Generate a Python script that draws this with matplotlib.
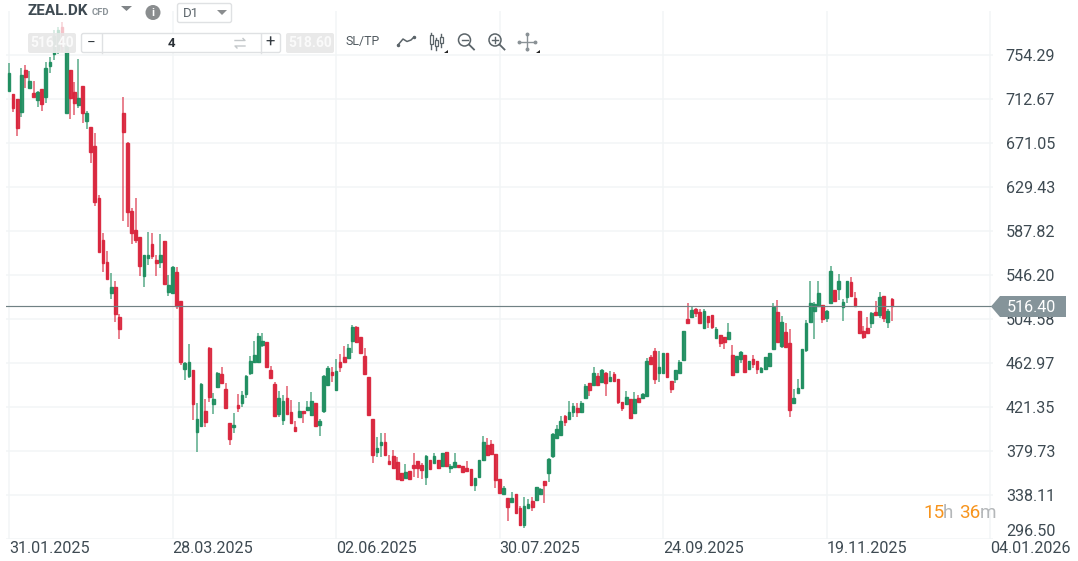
import matplotlib
matplotlib.use("Agg")
import matplotlib.pyplot as plt
from matplotlib.patches import Rectangle, Polygon, FancyBboxPatch, Circle

plt.rcParams['font.family'] = ['Roboto', 'DejaVu Sans']

opens = [
 720.3,717.4,712.6,700.3,740.1,723.0,718.4,711.7,722.1,714.5,
 743.9,755.2,759.0,780.8,699.4,740.1,719.3,706.9,724.9,691.9,
 686.1,668.2,619.0,579.3,558.4,529.2,534.8,506.4,699.4,671.1,
 606.7,588.7,582.1,545.2,562.2,575.5,560.3,558.4,578.3,530.1,
 529.2,549.0,521.6,457.3,450.6,456.3,397.6,403.3,417.6,477.1,
 424.1,440.3,452.5,438.3,406.2,402.4,423.2,425.1,433.6,453.4,
 463.9,463.9,480.0,482.8,456.3,443.0,414.7,409.0,429.8,416.6,
 402.4,411.9,417.5,418.5,413.8,425.1,404.3,417.5,442.1,454.4,
 437.4,463.9,468.6,467.6,483.7,497.0,487.5,469.5,449.7,409.9,
 378.7,385.4,388.2,370.2,375.0,369.3,358.9,354.1,360.8,366.4,
 370.2,366.4,355.0,371.2,368.3,371.2,365.5,378.7,363.6,364.5,
 366.4,365.5,363.6,362.6,347.5,355.0,371.2,385.4,386.3,376.9,
 353.2,338.9,335.2,331.4,339.0,325.8,309.7,325.8,332.4,333.3,
 339.0,351.3,358.9,374.9,392.0,394.8,412.8,410.0,416.6,420.4,
 416.6,429.8,444.0,442.1,450.6,444.9,453.4,445.9,452.5,447.8,
 426.0,424.1,428.9,415.6,429.8,429.8,431.7,468.6,474.3,453.4,
 453.4,472.4,445.9,447.8,453.4,465.8,504.5,506.4,514.0,511.2,
 496.0,507.4,508.3,486.6,489.4,487.5,485.6,470.5,454.4,466.7,
 470.5,457.3,466.7,464.8,454.4,457.3,460.1,476.2,511.2,479.0,
 492.2,481.9,425.1,434.6,439.3,475.2,501.7,512.1,516.8,517.8,
 505.5,519.7,532.0,532.9,515.9,525.4,539.5,524.4,512.1,493.2,
 496.0,500.7,511.2,508.3,526.3,501.7,523.4]
highs = [
 746.8,717.4,712.6,742.0,744.9,739.2,729.7,720.3,722.1,747.7,
 752.0,777.9,780.8,785.5,762.8,740.1,728.7,750.5,724.9,701.3,
 686.1,680.5,621.8,585.9,568.9,548.1,540.4,509.2,714.5,672.0,
 609.5,619.0,582.1,565.1,586.8,585.9,565.1,584.9,578.3,546.2,
 554.6,553.7,521.6,463.9,480.9,456.3,425.1,444.0,428.9,478.1,
 434.6,454.4,459.1,444.0,406.2,415.6,433.6,436.5,451.6,469.5,
 483.7,491.3,491.3,482.8,460.1,444.9,436.4,432.7,441.2,427.9,
 408.0,426.0,417.5,427.0,435.5,425.1,409.9,451.6,460.1,459.1,
 466.7,471.4,479.0,480.9,498.9,497.9,487.5,477.1,449.7,409.9,
 392.9,396.7,396.7,375.9,380.6,374.0,358.9,367.4,360.8,377.8,
 370.2,368.3,375.9,371.2,377.8,371.2,377.8,378.7,367.4,377.8,
 366.4,365.5,370.2,362.6,354.1,371.2,393.9,392.0,390.1,376.9,
 353.2,346.6,335.2,340.9,339.0,327.7,336.2,334.3,336.2,345.6,
 344.7,351.3,373.1,396.7,404.3,412.8,413.8,427.0,425.1,425.1,
 427.0,443.0,444.0,459.1,453.4,457.3,454.4,455.4,454.4,447.8,
 426.0,436.5,428.9,435.5,432.7,434.6,467.6,470.5,477.1,474.3,
 472.4,472.4,445.9,456.3,465.8,493.2,519.7,516.8,514.9,514.0,
 514.0,507.4,508.3,497.0,489.4,487.5,500.7,480.0,469.5,474.3,
 470.5,464.8,470.5,464.8,459.1,468.6,472.4,519.7,522.5,507.4,
 500.7,495.1,438.3,447.8,476.2,503.6,540.4,520.6,540.4,517.8,
 513.0,554.6,532.0,547.1,523.4,540.4,544.3,530.1,512.1,497.9,
 506.4,511.2,521.6,530.1,526.3,514.0,524.4]
lows = [
 720.3,700.3,677.6,695.6,723.0,723.0,714.5,705.0,701.3,708.9,
 737.3,749.6,755.2,757.1,699.4,693.7,697.5,704.1,690.0,684.2,
 652.1,611.4,567.9,549.0,542.3,523.4,501.7,485.6,597.2,591.5,
 575.5,576.5,545.2,534.8,555.6,561.3,545.2,552.8,537.6,526.3,
 528.2,514.0,461.0,446.8,448.7,409.0,378.7,402.4,402.4,426.0,
 414.7,439.3,443.0,419.4,385.4,396.7,416.6,421.3,429.8,451.6,
 462.9,462.9,478.1,458.2,448.7,411.9,411.9,404.3,414.7,405.3,
 397.6,411.9,406.2,417.5,412.8,402.4,393.9,415.6,441.2,444.9,
 436.5,454.4,463.9,467.6,472.4,481.9,471.4,451.6,412.8,368.3,
 374.0,374.0,375.0,367.4,362.6,353.2,351.3,354.1,352.2,355.0,
 354.1,353.2,347.5,361.7,368.3,362.6,364.5,364.5,358.9,364.5,
 363.6,358.9,359.8,346.6,341.9,354.1,370.2,375.0,375.9,344.7,
 338.9,338.0,313.5,331.4,320.1,308.7,306.8,325.8,322.9,332.4,
 338.0,330.5,350.3,373.1,391.0,393.9,403.3,409.0,411.9,411.9,
 415.6,429.8,431.7,441.2,441.2,444.0,431.7,444.9,444.9,424.1,
 417.5,423.2,409.9,414.7,426.0,428.9,430.8,462.0,443.0,444.9,
 452.5,448.7,434.5,444.0,453.4,464.8,500.7,505.5,506.4,499.8,
 495.0,496.0,495.0,485.6,478.1,476.2,485.6,450.6,453.4,462.9,
 453.4,456.3,458.2,452.5,453.4,456.3,459.1,475.2,482.8,477.1,
 477.1,411.9,424.1,434.6,438.3,473.3,501.7,485.6,515.9,500.7,
 501.7,519.7,520.6,522.5,502.6,519.7,525.4,515.9,490.4,485.6,
 491.3,496.0,507.4,505.5,501.7,496.0,502.6]
closes = [
 737.3,704.1,685.2,735.4,733.5,729.7,714.5,719.3,707.9,742.0,
 747.7,772.3,777.9,762.8,762.8,713.6,708.9,713.6,699.4,699.4,
 662.5,615.2,567.9,557.5,542.3,534.8,509.2,495.0,681.4,605.7,
 585.9,579.3,554.6,565.1,565.1,564.1,557.5,565.1,537.6,536.7,
 553.7,516.8,463.9,462.9,463.9,424.1,409.9,443.0,407.1,430.8,
 428.9,453.4,444.0,420.4,391.0,404.3,420.4,432.7,450.6,464.8,
 470.5,488.4,483.7,459.1,448.7,412.8,429.8,426.9,414.7,406.2,
 398.6,417.5,415.6,421.3,427.0,403.3,408.0,450.6,458.2,451.6,
 455.4,459.1,463.9,477.1,497.0,482.8,472.4,452.5,413.8,375.9,
 382.5,388.2,375.9,367.4,363.6,353.2,352.2,359.8,353.2,363.6,
 363.6,361.7,375.0,362.6,375.0,363.6,377.8,365.5,365.5,369.3,
 364.5,359.8,360.8,347.5,354.1,371.2,388.2,375.9,376.9,352.2,
 339.9,344.7,326.7,335.2,321.0,309.7,327.7,329.6,326.7,345.6,
 343.7,347.5,372.1,395.8,400.5,408.0,407.1,416.6,422.2,416.6,
 425.1,441.2,437.4,453.4,442.1,456.3,444.0,449.7,445.9,426.0,
 420.4,430.8,410.9,428.9,426.0,433.6,464.8,462.0,447.8,459.1,
 472.4,449.7,438.3,456.3,463.9,493.2,500.7,513.0,510.2,500.7,
 512.1,501.7,497.0,495.0,481.9,482.8,492.2,451.6,469.5,473.3,
 454.4,464.8,462.0,457.3,458.2,468.6,472.4,516.0,482.8,501.7,
 478.1,418.5,429.8,439.3,476.2,500.7,519.7,518.7,529.2,504.5,
 512.1,550.0,521.6,540.4,520.6,540.4,526.3,516.8,491.3,487.5,
 491.3,510.2,508.3,525.4,505.5,512.1,516.4]

price_ticks = [754.29, 712.67, 671.05, 629.43, 587.82, 546.20, 504.58, 462.97, 421.35, 379.73, 338.11, 296.50]
date_labels = ['31.01.2025', '28.03.2025', '02.06.2025', '30.07.2025', '24.09.2025', '19.11.2025', '04.01.2026']
date_positions = [0, 40, 80, 120, 160, 200, 240]
last_price = 516.40

W, H = 1078, 561
RED, GREEN = '#d9223a', '#1b8c5d'
TXT = '#3e4a52'

fig = plt.figure(figsize=(W / 100, H / 100), dpi=100, facecolor='white')
L, R, T, B = 6, 993, 11, 539
ax = fig.add_axes([L / W, 1 - B / H, (R - L) / W, (B - T) / H])
ax.set_xlim(-0.734, 240.73)
ax.set_ylim(296.45, 795.9)
for s in ax.spines.values():
    s.set_visible(False)
ax.set_axisbelow(True)
ax.grid(True, color='#f2f5f6', lw=1.1)
ax.yaxis.tick_right()
ax.set_yticks(price_ticks)
ax.set_yticklabels([f'{v:.2f}' for v in price_ticks], fontsize=11.6, color=TXT)
ax.set_xticks(date_positions)
ax.set_xticklabels(date_labels, fontsize=11.6, color=TXT, ha='right')
ax.tick_params(axis='both', length=0)
ax.tick_params(axis='y', pad=9.2)
ax.tick_params(axis='x', pad=1.5)
ax.get_yticklabels()[-1].set_verticalalignment('bottom')
fig.canvas.draw()
for lab, pos in zip(ax.get_xticklabels(), date_positions):
    lab.set_horizontalalignment('left')
    lab.set_x(pos - 0.4)
    lab.set_clip_on(False)

idx = list(range(len(closes)))
colors = [GREEN if c >= o else RED for o, c in zip(opens, closes)]
ax.vlines(idx, lows, highs, colors=colors, lw=1.3, alpha=0.62, zorder=3)
ax.bar(idx, [abs(c - o) for o, c in zip(opens, closes)],
       bottom=[min(o, c) for o, c in zip(opens, closes)],
       width=0.66, color=colors, edgecolor=colors, linewidth=1.0, alpha=0.9, zorder=4)
ax.axhline(last_price, color='#708184', lw=0.85, zorder=5)

ov = fig.add_axes([0, 0, 1, 1], facecolor='none', zorder=10)
ov.set_xlim(0, W)
ov.set_ylim(H, 0)
ov.axis('off')

# last price tag
ov.add_patch(Polygon([(991, 306.5), (1000, 296), (1066, 296), (1066, 317), (1000, 317)], color='#85949a', lw=0))
ov.text(1031, 307, '516.40', color='white', fontsize=11.6, ha='center', va='center')

# veil over the candles that run up under the header
ov.add_patch(Rectangle((30, 14), 60, 19, fc='white', ec='none', alpha=0.72))

# header
ov.text(28, 11, 'ZEAL.DK', fontsize=11, fontweight='bold', color=TXT, va='center')
ov.text(92, 12, 'CFD', fontsize=6.8, fontweight='bold', color='#8b9398', va='center')
ov.add_patch(Polygon([(121, 6), (132, 6), (126.5, 11)], color='#808588', lw=0))
ov.add_patch(Circle((153, 12.5), 7.5, color='#8a8d8f', lw=0))
ov.text(153, 12.5, 'i', color='white', fontsize=8, fontweight='bold', ha='center', va='center')
ov.add_patch(FancyBboxPatch((177.5, 3.5), 54, 19, boxstyle='round,pad=0,rounding_size=2', fc='white', ec='#dfe1e3', lw=1))
ov.text(183, 13.5, 'D1', fontsize=9.5, color='#5d666c', va='center')
ov.add_patch(Polygon([(217, 10), (227, 10), (222, 15)], color='#8a8d8f', lw=0))

# order row
ov.add_patch(FancyBboxPatch((28, 33), 48, 20, boxstyle='round,pad=0,rounding_size=2', fc='#e9e9e9', ec='none', alpha=0.96))
ov.text(52, 43, '516.40', fontsize=10, fontweight='bold', color='#fafafa', ha='center', va='center')
ov.add_patch(FancyBboxPatch((81.5, 33.5), 199, 19, boxstyle='round,pad=0,rounding_size=2', fc='white', ec='#dfe1e3', lw=1))
ov.plot([101.5, 101.5], [33.5, 52.5], color='#dfe1e3', lw=1)
ov.plot([260.5, 260.5], [33.5, 52.5], color='#dfe1e3', lw=1)
ov.text(91, 42.5, '\u2212', fontsize=11, color='#333a40', ha='center', va='center')
ov.text(171, 43.5, '4', fontsize=9.5, fontweight='bold', color='#2a3036', ha='center', va='center')
ov.text(270.5, 42.5, '+', fontsize=12, color='#333a40', ha='center', va='center')
ov.plot([235, 245, 243], [40.5, 40.5, 38.5], color='#c4c8ca', lw=1)
ov.plot([245, 235, 237], [46, 46, 48], color='#c4c8ca', lw=1)
ov.add_patch(FancyBboxPatch((286, 33), 48, 20, boxstyle='round,pad=0,rounding_size=2', fc='#e9e9e9', ec='none', alpha=0.96))
ov.text(310, 43, '518.60', fontsize=10, fontweight='bold', color='#fafafa', ha='center', va='center')
ov.text(345, 41.5, 'SL/TP', fontsize=8.9, color='#50595f', va='center')

# toolbar icons
ICON = '#5b6469'
ov.plot([398, 403, 407, 411, 414], [45, 39, 41.5, 40, 37], color=ICON, lw=1.1)
ov.plot([398, 414], [45, 37], color=ICON, lw=0, marker='o', ms=1.5)
for x, top, y0, y1, bot in [(431, 33, 35, 44, 49), (436, 38, 40, 46, 50), (441, 34, 37, 43, 47)]:
    ov.plot([x, x], [top, bot], color=ICON, lw=1)
    ov.add_patch(Rectangle((x - 1.5, y0), 3, y1 - y0, fc='white', ec=ICON, lw=0.9, zorder=3))
ov.add_patch(Polygon([(444, 53), (448, 53), (448, 50)], color='#222', lw=0))
ov.add_patch(Polygon([(536, 53), (540, 53), (540, 50)], color='#222', lw=0))
for cx, plus in [(464.5, False), (495, True)]:
    ov.add_patch(Circle((cx, 40), 6, fc='none', ec=ICON, lw=1.1))
    ov.plot([cx + 4.5, cx + 9.5], [44.5, 49.5], color=ICON, lw=1.3)
    ov.plot([cx - 3, cx + 3], [40, 40], color=ICON, lw=1)
    if plus:
        ov.plot([cx, cx], [37, 43], color=ICON, lw=1)
ov.plot([519, 535], [41.5, 41.5], color='#8a9296', lw=1)
ov.plot([527, 527], [33.5, 49.5], color='#8a9296', lw=1)
for (a, b) in [(519, 41.5), (535, 41.5), (527, 34), (527, 49)]:
    ov.plot([a], [b], marker='o', ms=1.8, color='#8a9296')

# countdown
ORANGE, GREY = '#f7941d', '#b4b7b9'
ov.text(923, 513, '15', fontsize=13.6, color=ORANGE, va='center')
ov.text(943, 513, 'h', fontsize=13.6, color=GREY, va='center')
ov.text(959, 513, '36', fontsize=13.6, color=ORANGE, va='center')
ov.text(980, 513, 'm', fontsize=13.6, color=GREY, va='center')

fig.savefig('out.png', dpi=100, facecolor='white')
